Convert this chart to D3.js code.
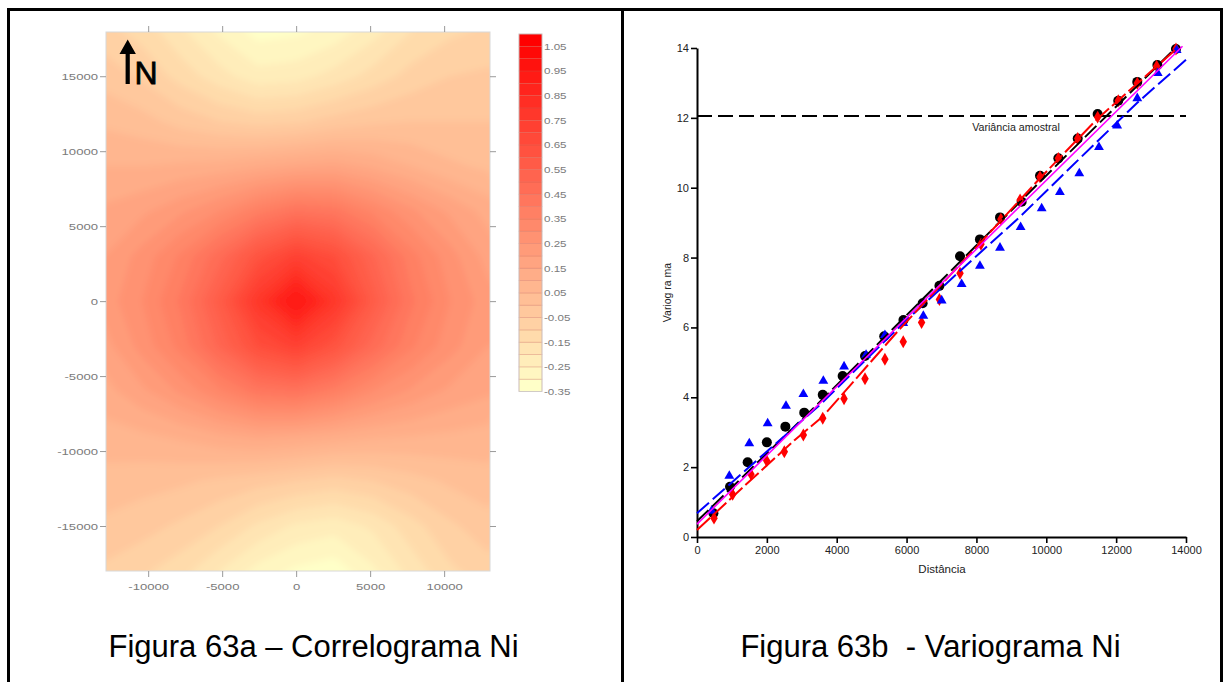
<!DOCTYPE html>
<html><head><meta charset="utf-8">
<script src="https://cdn.jsdelivr.net/npm/d3@7"></script>
<style>
html,body{margin:0;padding:0;background:#fff;}
svg{display:block;font-family:Arial,"Liberation Sans",sans-serif;}
</style></head><body>
<svg id="fig" width="1226" height="682"></svg>
<script>
// ---------- Correlogram map (lag grid, E-W lag by N-S lag) ----------
const lagX = [-13000,-10400,-7800,-5200,-2600,0,2600,5200,7800,10400,13000];
const lagY = [18000,15000,12000,9000,6000,3000,0,-3000,-6000,-9000,-12000,-15000,-18000];
const corr = [
  [-0.08,-0.12,-0.19,-0.26,-0.32,-0.31,-0.28,-0.22,-0.15,-0.11,-0.09],
  [-0.02,-0.06,-0.12,-0.18,-0.23,-0.22,-0.18,-0.13,-0.08,-0.05,-0.04],
  [ 0.04, 0.02,-0.02,-0.05,-0.07,-0.06,-0.03,-0.01, 0.00, 0.00, 0.00],
  [ 0.10, 0.10, 0.11, 0.12, 0.14, 0.16, 0.17, 0.14, 0.10, 0.06, 0.04],
  [ 0.16, 0.19, 0.24, 0.30, 0.38, 0.44, 0.42, 0.34, 0.26, 0.19, 0.13],
  [ 0.20, 0.27, 0.36, 0.48, 0.62, 0.72, 0.65, 0.51, 0.37, 0.27, 0.18],
  [ 0.22, 0.30, 0.41, 0.57, 0.78, 0.96, 0.78, 0.57, 0.41, 0.30, 0.22],
  [ 0.18, 0.27, 0.37, 0.51, 0.65, 0.72, 0.62, 0.48, 0.36, 0.27, 0.20],
  [ 0.13, 0.19, 0.26, 0.34, 0.42, 0.44, 0.38, 0.30, 0.24, 0.19, 0.16],
  [ 0.08, 0.09, 0.11, 0.14, 0.16, 0.15, 0.13, 0.11, 0.10, 0.09, 0.08],
  [ 0.03, 0.02, 0.01,-0.01,-0.03,-0.05,-0.07,-0.05,-0.02, 0.01, 0.03],
  [-0.01,-0.03,-0.06,-0.10,-0.16,-0.21,-0.23,-0.19,-0.12,-0.06,-0.02],
  [-0.06,-0.09,-0.13,-0.20,-0.27,-0.31,-0.33,-0.26,-0.18,-0.11,-0.07]
];
// contour levels of the map (lower edge of each colour band)
const levels = [-0.35,-0.30,-0.25,-0.20,-0.15,-0.10,-0.05,0.00,0.05,0.10,0.15,0.20,0.25,0.30,0.35,
                0.40,0.45,0.50,0.55,0.60,0.65,0.70,0.75,0.80,0.85,0.90,0.95,1.00,1.05];
const levelStep = 0.05;
const mapXTicks = [-10000,-5000,0,5000,10000];
const mapYTicks = [15000,10000,5000,0,-5000,-10000,-15000];
const legendLabels = ["1.05","0.95","0.85","0.75","0.65","0.55","0.45","0.35","0.25","0.15","0.05","-0.05","-0.15","-0.25","-0.35"];

// ---------- Experimental variograms and fitted models ----------
const blackLag   = [470,945,1450,2000,2530,3070,3600,4170,4810,5360,5910,6460,6940,7530,8100,8675,9295,9820,10345,10900,11470,12060,12605,13180,13713];
const blackGamma = [0.68,1.44,2.14,2.71,3.16,3.56,4.07,4.61,5.18,5.75,6.21,6.69,7.19,8.04,8.52,9.15,9.60,10.34,10.84,11.41,12.11,12.49,13.03,13.51,13.97];
const redLag     = [487,1020,1545,1995,2500,3045,3600,4210,4810,5380,5905,6430,6940,7530,8130,8700,9250,9820,10345,10900,11470,12060,12605,13160,13713];
const redGamma   = [0.54,1.22,1.80,2.18,2.44,2.92,3.40,3.96,4.53,5.09,5.59,6.14,6.80,7.55,8.38,9.10,9.65,10.31,10.84,11.41,12.02,12.49,12.99,13.48,13.97];
const blueLag    = [420,925,1497,2023,2548,3045,3617,4210,4840,5380,5905,6480,7005,7577,8100,8675,9265,9868,10390,10945,11508,12030,12605,13190,13733];
const blueGamma  = [0.75,1.75,2.68,3.25,3.75,4.09,4.47,4.88,5.21,5.78,6.12,6.33,6.77,7.24,7.76,8.28,8.87,9.41,9.87,10.41,11.16,11.78,12.56,13.28,13.94];

const blackModelLag   = [0,3500,7000,10500,13600];
const blackModelGamma = [0.45,3.85,7.35,10.85,13.9];
const redModelLag     = [0,1400,2800,3600,5800,8000,9800,11440,13700];
const redModelGamma   = [0.2,1.5,2.78,3.45,5.95,8.3,10.25,11.95,13.95];
const blueModelLag    = [0,1470,3570,5900,7720,9250,10960,12590,14020];
const blueModelGamma  = [0.68,1.98,3.83,6.12,7.79,9.17,10.84,12.42,13.68];
const omniModelLag    = [0,13900];
const omniModelGamma  = [0.37,14.05];
const sampleVariance  = 12.05;

const varXTicks = [0,2000,4000,6000,8000,10000,12000,14000];
const varYTicks = [0,2,4,6,8,10,12,14];

const svg = d3.select("#fig");
const defs = svg.append("defs");
const FONT = "Arial,'Liberation Sans',sans-serif";

// ---------- outer frame ----------
svg.append("path")
  .attr("d","M8.5,682 V9.5 H1221.5 V682 M622.5,9.5 V682")
  .attr("fill","none").attr("stroke","#000").attr("stroke-width",3);

// ---------- left panel: correlogram ----------
const mapX = d3.scaleLinear().domain([-12850,13100]).range([106,490]);
const mapY = d3.scaleLinear().domain([-18000,17950]).range([571,32]);
const color = d3.scaleLinear().domain([-0.35,1.05]).range(["#ffffc8","#ff0000"]).interpolate(d3.interpolateRgb);

defs.append("clipPath").attr("id","mapClip").append("rect")
  .attr("x",mapX.range()[0]).attr("y",mapY.range()[1])
  .attr("width",mapX.range()[1]-mapX.range()[0]).attr("height",mapY.range()[0]-mapY.range()[1]);
defs.append("filter").attr("id","soft").attr("x","-10%").attr("y","-10%").attr("width","120%").attr("height","120%")
  .append("feGaussianBlur").attr("stdDeviation",3.5);

const nx = lagX.length, ny = lagY.length;
const dLx = lagX[1]-lagX[0], dLy = lagY[1]-lagY[0];
const gridProj = d3.geoTransform({point(x,y){
  this.stream.point(mapX(lagX[0]+(x-0.5)*dLx), mapY(lagY[0]+(y-0.5)*dLy));
}});
const gridPath = d3.geoPath(gridProj);
const bands = d3.contours().size([nx,ny]).thresholds(levels)(corr.flat());

const mapG = svg.append("g").attr("clip-path","url(#mapClip)").append("g").attr("filter","url(#soft)");
mapG.append("rect").attr("x",60).attr("y",0).attr("width",480).attr("height",620).attr("fill",color(-0.35));
mapG.selectAll("path.band").data(bands).join("path").attr("class","band")
  .attr("d",gridPath).attr("fill",d=>color(d.value));

svg.append("rect").attr("x",106).attr("y",32).attr("width",384).attr("height",539)
  .attr("fill","none").attr("stroke","#d8d8d8").attr("stroke-width",1);

// tick labels of the map are drawn wide, as in the figure
function styleMapAxis(g){
  g.select(".domain").remove();
  g.selectAll(".tick line").attr("stroke","#9a9a9a");
  g.selectAll(".tick text").attr("fill","#7a7a7a").style("font-size","9.5px").style("font-family",FONT)
    .each(function(){
      const t = d3.select(this);
      const x = +t.attr("x") || 0, y = +t.attr("y") || 0;
      t.attr("x",0).attr("y",0).attr("transform",`translate(${x},${y}) scale(1.38,1)`);
    });
}
svg.append("g").attr("transform","translate(106,0)")
  .call(d3.axisLeft(mapY).tickValues(mapYTicks).tickSize(6).tickPadding(2).tickFormat(d=>String(d))).call(styleMapAxis);
svg.append("g").attr("transform","translate(0,571)")
  .call(d3.axisBottom(mapX).tickValues(mapXTicks).tickSize(6).tickPadding(6).tickFormat(d=>String(d))).call(styleMapAxis);
svg.append("g").attr("transform","translate(490,0)")
  .call(d3.axisRight(mapY).tickValues(mapYTicks).tickSize(6).tickFormat("")).call(styleMapAxis);
svg.append("g").attr("transform","translate(0,32)")
  .call(d3.axisTop(mapX).tickValues(mapXTicks).tickSize(6).tickFormat("")).call(styleMapAxis);

// north arrow
svg.append("path").attr("d","M125.6,84 V54 H119.5 L127.7,39.5 L135.9,54 H129.8 V84 Z").attr("fill","#000");
svg.append("text").attr("x",134.5).attr("y",84).attr("font-size",32).attr("fill","#000")
  .attr("stroke","#000").attr("stroke-width",0.8).text("N");

// colour legend
const cbY = d3.scaleLinear().domain([levels[0], levels[levels.length-1]+levelStep]).range([391.5,34]);
const cbG = svg.append("g");
cbG.selectAll("rect").data(levels).join("rect")
  .attr("x",519).attr("width",23)
  .attr("y",d=>cbY(d+levelStep)).attr("height",d=>cbY(d)-cbY(d+levelStep))
  .attr("fill",d=>color(d)).attr("stroke","#c85a48").attr("stroke-opacity",0.3).attr("stroke-width",0.8);
cbG.append("rect").attr("x",519).attr("y",34).attr("width",23).attr("height",357.5)
  .attr("fill","none").attr("stroke","#c9c9c9").attr("stroke-width",0.8);
cbG.selectAll("text").data(legendLabels).join("text")
  .attr("transform",d=>`translate(544,${cbY(+d)}) scale(1.22,1)`).attr("dy","0.35em")
  .attr("font-size",9.5).attr("fill","#7a7a7a").text(d=>d);

// caption
svg.append("text").attr("x",313.5).attr("y",657).attr("text-anchor","middle")
  .attr("font-size",31).attr("fill","#000").text("Figura 63a – Correlograma Ni");

// ---------- right panel: variogram ----------
const vx = d3.scaleLinear().domain([0,14000]).range([697,1186]);
const vy = d3.scaleLinear().domain([0,14]).range([537,48]);

function styleVarAxis(g){
  g.select(".domain").attr("stroke","#000").attr("stroke-width",2);
  g.selectAll(".tick line").attr("stroke","#000").attr("stroke-width",1.6);
  g.selectAll(".tick text").attr("fill","#222").style("font-size","11px").style("font-family",FONT);
}
svg.append("g").attr("transform","translate(0,537)")
  .call(d3.axisBottom(vx).tickValues(varXTicks).tickSize(6).tickSizeOuter(0).tickPadding(3).tickFormat(d=>String(d))).call(styleVarAxis);
svg.append("g").attr("transform","translate(697,0)")
  .call(d3.axisLeft(vy).tickValues(varYTicks).tickSize(6).tickSizeOuter(0).tickPadding(2).tickFormat(d=>String(d))).call(styleVarAxis);

svg.append("text").attr("x",942).attr("y",573).attr("text-anchor","middle")
  .attr("font-size",11.5).attr("fill","#222").text("Distância");
svg.append("text").attr("transform","translate(670.5,292.5) rotate(-90)").attr("text-anchor","middle")
  .attr("font-size",10.5).attr("fill","#222").style("white-space","pre").text("Variog ra ma");

// sample variance
svg.append("line").attr("x1",vx(0)).attr("x2",vx(14000)).attr("y1",vy(sampleVariance)).attr("y2",vy(sampleVariance))
  .attr("stroke","#000").attr("stroke-width",2).attr("stroke-dasharray","15,6");
svg.append("text").attr("x",1016).attr("y",131).attr("text-anchor","middle")
  .attr("font-size",10.7).attr("fill","#222").text("Variância amostral");

// markers
const pts = (lags,vals)=>lags.map((l,i)=>[l,vals[i]]);
svg.append("g").selectAll("circle").data(pts(blackLag,blackGamma)).join("circle")
  .attr("cx",d=>vx(d[0])).attr("cy",d=>vy(d[1])).attr("r",5).attr("fill","#000");
const diamond = d3.symbol().type(d3.symbolDiamond).size(48);
svg.append("g").selectAll("path").data(pts(redLag,redGamma)).join("path")
  .attr("transform",d=>`translate(${vx(d[0])},${vy(d[1])})`).attr("d",diamond).attr("fill","#ff0000");
const tri = d3.symbol().type(d3.symbolTriangle).size(42);
svg.append("g").selectAll("path").data(pts(blueLag,blueGamma)).join("path")
  .attr("transform",d=>`translate(${vx(d[0])},${vy(d[1])})`).attr("d",tri).attr("fill","#0000ff");

// model curves
const line = d3.line().x(d=>vx(d[0])).y(d=>vy(d[1]));
svg.append("path").datum(pts(blackModelLag,blackModelGamma)).attr("d",line)
  .attr("fill","none").attr("stroke","#000").attr("stroke-width",2).attr("stroke-dasharray","16,5");
svg.append("path").datum(pts(blueModelLag,blueModelGamma)).attr("d",line)
  .attr("fill","none").attr("stroke","#0000ff").attr("stroke-width",2).attr("stroke-dasharray","16,5");
svg.append("path").datum(pts(redModelLag,redModelGamma)).attr("d",line)
  .attr("fill","none").attr("stroke","#ff0000").attr("stroke-width",2).attr("stroke-dasharray","18,4");
svg.append("path").datum(pts(omniModelLag,omniModelGamma)).attr("d",line)
  .attr("fill","none").attr("stroke","#ff00ff").attr("stroke-width",1.6);

// caption
svg.append("text").attr("x",930.5).attr("y",657).attr("text-anchor","middle")
  .style("white-space","pre").attr("font-size",31).attr("fill","#000").text("Figura 63b  - Variograma Ni");
</script>
</body></html>
